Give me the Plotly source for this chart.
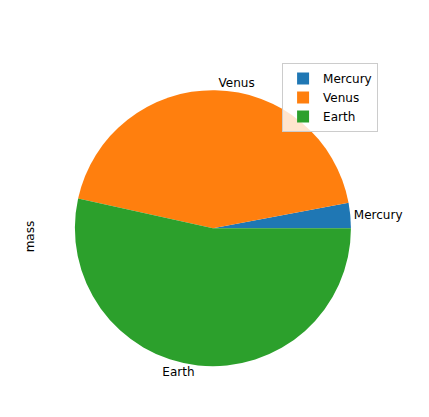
import plotly.graph_objects as go

planets = ["Mercury", "Venus", "Earth"]
mass = [0.330, 4.87, 5.97]
colors = ["#1f77b4", "#ff7f0e", "#2ca02c"]

# matplotlib starts the first wedge at 3 o'clock and goes counterclockwise
first_share = 360.0 * mass[0] / sum(mass)

fig = go.Figure()
fig.add_trace(go.Pie(
    labels=planets, values=mass, sort=False, direction="counterclockwise",
    rotation=90 - first_share, marker=dict(colors=colors, line=dict(width=0)),
    textinfo="label", textposition="outside",
    textfont=dict(family="DejaVu Sans", size=12, color="black"),
    showlegend=True, domain=dict(x=[0.135, 0.935], y=[0.141, 0.803]),
))
fig.add_annotation(text="mass", textangle=-90, x=25 / 429, y=1 - 228 / 417,
                   xref="paper", yref="paper", xanchor="center", yanchor="middle",
                   showarrow=False,
                   font=dict(family="DejaVu Sans", size=12, color="black"))
fig.update_layout(
    width=429, height=417, margin=dict(l=0, r=0, t=0, b=0),
    paper_bgcolor="white", plot_bgcolor="white",
    font=dict(family="DejaVu Sans", size=12, color="black"),
    legend=dict(x=307 / 429, y=1 - 55 / 417, xanchor="left", yanchor="top",
                bgcolor="rgba(255,255,255,0.8)", bordercolor="#cccccc", borderwidth=1,
                font=dict(size=12)),
)
fig.write_html("out.html")
